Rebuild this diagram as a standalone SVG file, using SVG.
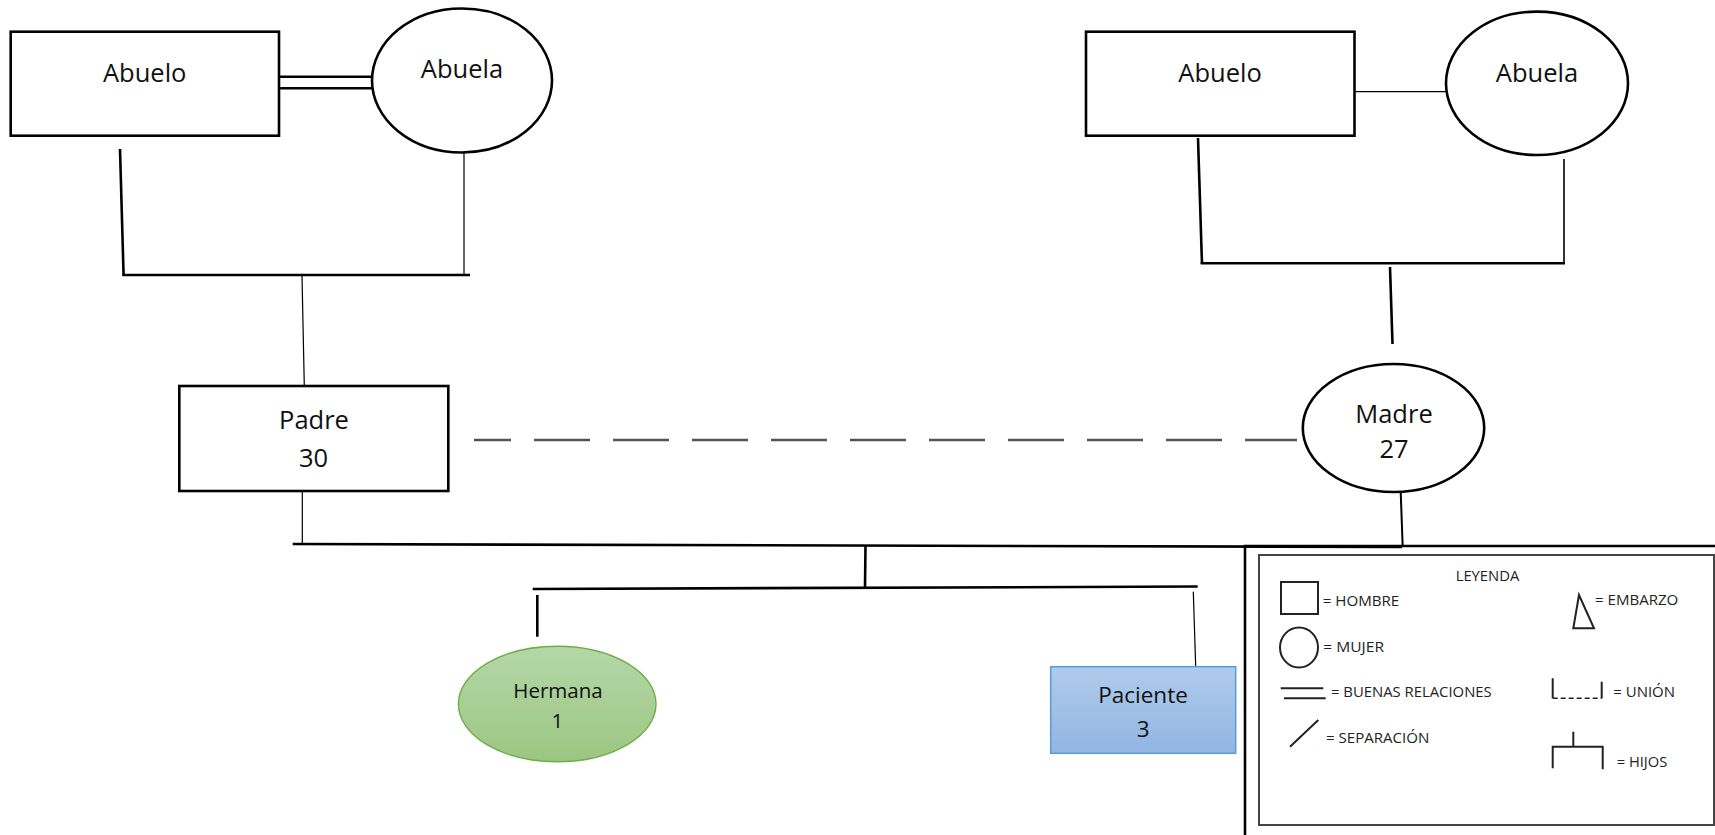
<svg xmlns="http://www.w3.org/2000/svg" width="1715" height="835" viewBox="0 0 1715 835">
<defs>
<linearGradient id="gGreen" x1="0" y1="0" x2="0" y2="1"><stop offset="0" stop-color="#b5d7a8"/><stop offset="1" stop-color="#9cc683"/></linearGradient>
<linearGradient id="gBlue" x1="0" y1="0" x2="0" y2="1"><stop offset="0" stop-color="#afcbeb"/><stop offset="1" stop-color="#92b5e2"/></linearGradient>
<style>
.box{fill:#fff;stroke:#000;stroke-width:2.6}
.lbl{font-family:"Open Sans","Liberation Sans",sans-serif;font-size:25.5px;fill:#111;text-anchor:middle}
.sm{font-size:20.5px}
.md{font-size:22.5px}
.thick{stroke:#000;stroke-width:2.6;fill:none}
.thin{stroke:#000;stroke-width:1.2;fill:none}
.leg{font-family:"Open Sans","Liberation Sans",sans-serif;font-size:15px;fill:#222}
.legs{stroke:#222;stroke-width:2;fill:none}
</style>
</defs>
<rect width="1715" height="835" fill="#fff"/>
<g id="connectors">
<line class="thick" x1="275.5" y1="76.7" x2="377" y2="76.7"/>
<line class="thick" x1="279" y1="88.3" x2="377" y2="88.3"/>
<line class="thick" x1="120" y1="149" x2="123.6" y2="276"/>
<line class="thin" x1="464" y1="153" x2="464" y2="275"/>
<line class="thick" x1="122.5" y1="275" x2="470" y2="275"/>
<line class="thin" x1="302" y1="276" x2="304.3" y2="386"/>
<line x1="1354" y1="91.7" x2="1446" y2="91.7" stroke="#000" stroke-width="1.3"/>
<line class="thick" x1="1198" y1="138" x2="1202" y2="264"/>
<line x1="1564" y1="159" x2="1564" y2="264" stroke="#000" stroke-width="1.6"/>
<line class="thick" x1="1200.7" y1="263.3" x2="1565" y2="263.3"/>
<line class="thick" x1="1390" y1="267" x2="1392.5" y2="344"/>
<line x1="474" y1="440" x2="1297" y2="440" stroke="#555" stroke-width="2.6" stroke-dasharray="56 23" stroke-dashoffset="19"/>
<line class="thin" x1="302.3" y1="491" x2="302.3" y2="544"/>
<line class="thick" x1="292.7" y1="544" x2="1402" y2="547"/>
<line x1="1400.7" y1="492" x2="1402.7" y2="547" stroke="#000" stroke-width="2"/>
<line class="thick" x1="865.5" y1="545" x2="865" y2="588"/>
<line class="thick" x1="532.7" y1="589" x2="1197.7" y2="586.5"/>
<line class="thick" x1="537.3" y1="595" x2="537.3" y2="636.7"/>
<line class="thin" x1="1193.3" y1="591.7" x2="1195.7" y2="666.7"/>
</g>
<g id="abuelo-paterno">
<rect class="box" x="10.7" y="31.7" width="268.3" height="104"/>
<text class="lbl" x="144.7" y="82.3">Abuelo</text>
</g>
<g id="abuela-paterna">
<ellipse class="box" cx="462" cy="80.5" rx="90" ry="72"/>
<text class="lbl" x="462" y="78.3">Abuela</text>
</g>
<g id="abuelo-materno">
<rect class="box" x="1086" y="31.7" width="268.5" height="104"/>
<text class="lbl" x="1220" y="82">Abuelo</text>
</g>
<g id="abuela-materna">
<ellipse class="box" cx="1537" cy="83.3" rx="91" ry="71.7"/>
<text class="lbl" x="1537" y="82">Abuela</text>
</g>
<g id="padre">
<rect class="box" x="179.3" y="386" width="269" height="105"/>
<text class="lbl" x="314" y="429.3">Padre</text>
<text class="lbl" x="313.5" y="466.7">30</text>
</g>
<g id="madre">
<ellipse class="box" cx="1393.5" cy="428" rx="90.7" ry="64"/>
<text class="lbl" x="1394" y="422.7">Madre</text>
<text class="lbl" x="1394" y="458">27</text>
</g>
<g id="hermana">
<ellipse cx="557.2" cy="704" rx="98.8" ry="57.8" fill="url(#gGreen)" stroke="#70ad47" stroke-width="1.4"/>
<text class="lbl sm" x="558" y="698.3">Hermana</text>
<text class="lbl sm" x="557.3" y="728.3">1</text>
</g>
<g id="paciente">
<rect x="1050.7" y="666.7" width="185" height="86.6" fill="url(#gBlue)" stroke="#5b9bd5" stroke-width="1.5"/>
<text class="lbl md" x="1143" y="702.7">Paciente</text>
<text class="lbl md" x="1143.3" y="736.7">3</text>
</g>
<g id="leyenda">
<path d="M1245,835 V546 H1715" fill="none" stroke="#000" stroke-width="2.6"/>
<rect x="1259" y="555" width="455" height="270" fill="#fff" stroke="#444" stroke-width="2"/>
<text class="leg" x="1455.7" y="581" textLength="63.6" lengthAdjust="spacingAndGlyphs">LEYENDA</text>
<rect class="legs" x="1281" y="582" width="37" height="32"/>
<text class="leg" x="1322.7" y="605.7" textLength="76.6" lengthAdjust="spacingAndGlyphs">= HOMBRE</text>
<ellipse class="legs" cx="1299" cy="647.5" rx="19" ry="20"/>
<text class="leg" x="1323.3" y="651.7" textLength="60.7" lengthAdjust="spacingAndGlyphs">= MUJER</text>
<line class="legs" x1="1280.7" y1="688.3" x2="1323.3" y2="688.3"/>
<line class="legs" x1="1284" y1="698.3" x2="1325.7" y2="698.3"/>
<text class="leg" x="1331" y="697.3" textLength="160.7" lengthAdjust="spacingAndGlyphs">= BUENAS RELACIONES</text>
<line class="legs" x1="1290" y1="746.7" x2="1318.3" y2="720"/>
<text class="leg" x="1326" y="743.3" textLength="103.3" lengthAdjust="spacingAndGlyphs">= SEPARACIÓN</text>
<polygon class="legs" points="1579,595 1573.3,628.3 1594,628.3"/>
<text class="leg" x="1595" y="605" textLength="83.3" lengthAdjust="spacingAndGlyphs">= EMBARZO</text>
<path class="legs" d="M1552.7,678.3 V698.3 M1601.7,681.7 V698.3"/>
<line x1="1552.7" y1="698.3" x2="1601.7" y2="698.3" stroke="#222" stroke-width="1.5" stroke-dasharray="5 3"/>
<text class="leg" x="1613.3" y="696.7" textLength="61.7" lengthAdjust="spacingAndGlyphs">= UNIÓN</text>
<path class="legs" d="M1573.3,731.7 V746.7 M1552.7,768.3 V746.7 H1602.7 V769.3"/>
<text class="leg" x="1616.7" y="767.3" textLength="50.6" lengthAdjust="spacingAndGlyphs">= HIJOS</text>
</g>
</svg>
